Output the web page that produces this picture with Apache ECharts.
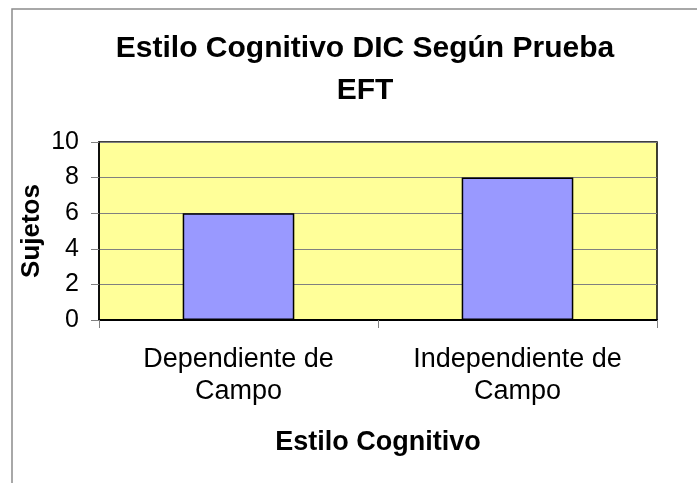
<!DOCTYPE html>
<html>
<head>
<meta charset="utf-8">
<script src="https://cdn.jsdelivr.net/npm/echarts@6/dist/echarts.min.js"></script>
<style>
  html, body { margin: 0; padding: 0; background: #fff; }
  #chart { width: 697px; height: 483px; }
</style>
</head>
<body>
<div id="chart"></div>
<script>
// datos del gráfico
const categories = ['Dependiente de\nCampo', 'Independiente de\nCampo']
const sujetos = [6, 8]
const yTicks = [0, 2, 4, 6, 8, 10]

const fontFamily = '"Liberation Sans", Arial, sans-serif'
const gridColor = '#808080'

const chart = echarts.init(document.getElementById('chart'))
chart.setOption({
  animation: false,
  backgroundColor: '#ffffff',
  title: {
    text: 'Estilo Cognitivo DIC Según Prueba\nEFT',
    left: 360,
    top: 23,
    textAlign: 'center',
    textStyle: {
      fontFamily: fontFamily,
      fontWeight: 'bold',
      fontSize: 30,
      lineHeight: 42,
      color: '#000'
    }
  },
  // marco del área del gráfico
  graphic: [{
    type: 'rect',
    shape: { x: 12, y: 9, width: 800, height: 600 },
    style: { fill: 'none', stroke: '#8c8c8c', lineWidth: 1.5 },
    silent: true
  }],
  grid: {
    left: 99,
    right: 40,
    top: 142,
    bottom: 163,
    show: true,
    backgroundColor: '#FFFF99',
    borderColor: '#000',
    borderWidth: 1.5
  },
  xAxis: {
    type: 'category',
    data: categories,
    name: 'Estilo Cognitivo',
    nameLocation: 'middle',
    nameGap: 109,
    nameTextStyle: {
      fontFamily: fontFamily,
      fontWeight: 'bold',
      fontSize: 27,
      color: '#000'
    },
    axisLine: { lineStyle: { color: '#000', width: 2 } },
    axisTick: {
      show: true,
      length: 8,
      lineStyle: { color: gridColor }
    },
    axisLabel: {
      margin: 24,
      fontFamily: fontFamily,
      fontSize: 27,
      lineHeight: 32,
      color: '#000',
      interval: 0
    }
  },
  yAxis: {
    type: 'value',
    min: yTicks[0],
    max: yTicks[yTicks.length - 1],
    interval: 2,
    name: 'Sujetos',
    nameLocation: 'middle',
    nameGap: 54,
    nameMoveOverlap: false,
    nameTextStyle: {
      fontFamily: fontFamily,
      fontWeight: 'bold',
      fontSize: 26,
      color: '#000'
    },
    axisLine: { show: true, lineStyle: { color: '#000', width: 1.5 } },
    axisTick: {
      show: true,
      length: 8,
      lineStyle: { color: gridColor }
    },
    axisLabel: {
      margin: 20,
      fontFamily: fontFamily,
      fontSize: 25,
      color: '#000'
    },
    splitLine: { lineStyle: { color: gridColor, width: 1 } }
  },
  series: [{
    type: 'bar',
    data: sujetos,
    barWidth: '40%',
    itemStyle: {
      color: '#9999FF',
      borderColor: '#000',
      borderWidth: 1.5
    }
  }]
})
</script>
</body>
</html>
